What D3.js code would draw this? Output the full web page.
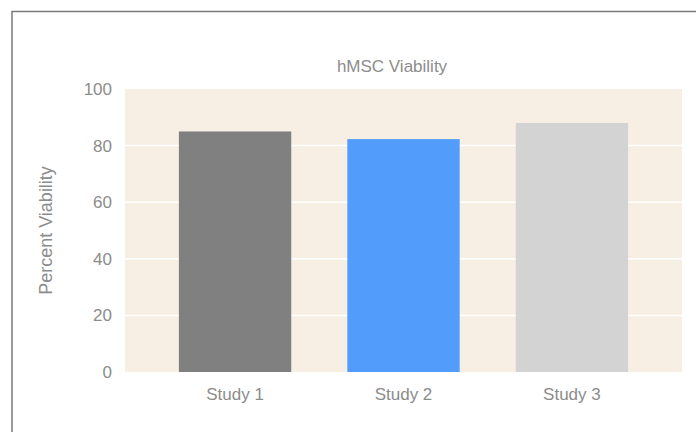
<!DOCTYPE html>
<html>
<head>
<meta charset="utf-8">
<script src="https://cdn.jsdelivr.net/npm/d3@7"></script>
<style>
  body { margin: 0; background: #fff; }
  text { font-family: "Liberation Sans", Arial, sans-serif; }
</style>
</head>
<body>
<script>
//Chart data
var studies = ["Study 1", "Study 2", "Study 3"];
var viability = [85, 82.3, 88];
var barColors = ["#808080", "#529dfc", "#d3d3d3"];
var yTicks = [0, 20, 40, 60, 80, 100];

//Width and height
var w = 696;
var h = 432;
var margin = {top: 89, right: 14, bottom: 60, left: 125};

var svg = d3.select("body")
            .append("svg")
            .attr("width", w)
            .attr("height", h);

//Outer frame (only top and left edges are visible)
svg.append("path")
   .attr("d", "M12,432 L12,11.5 L696,11.5")
   .attr("fill", "none")
   .attr("stroke", "#7a7a7a")
   .attr("stroke-width", 1.5);

//Scales
var x = d3.scaleBand()
          .domain(studies)
          .range([margin.left, w - margin.right])
          .paddingInner(0.333)
          .paddingOuter(0.32);

var y = d3.scaleLinear()
          .domain([0, 100])
          .range([h - margin.bottom, margin.top]);

//Plot background
svg.append("rect")
   .attr("x", margin.left)
   .attr("y", y(100))
   .attr("width", w - margin.right - margin.left)
   .attr("height", y(0) - y(100))
   .attr("fill", "#f7efe4");

//White gridlines
svg.selectAll("line.grid")
   .data(yTicks.filter(function(d) { return d > 0 && d < 100; }))
   .enter()
   .append("line")
   .attr("class", "grid")
   .attr("x1", margin.left)
   .attr("x2", w - margin.right)
   .attr("y1", function(d) { return y(d); })
   .attr("y2", function(d) { return y(d); })
   .attr("stroke", "#ffffff")
   .attr("stroke-width", 1.5);

//Bars
svg.selectAll("rect.bar")
   .data(viability)
   .enter()
   .append("rect")
   .attr("class", "bar")
   .attr("x", function(d, i) { return x(studies[i]); })
   .attr("width", x.bandwidth())
   .attr("y", function(d) { return y(d); })
   .attr("height", function(d) { return y(0) - y(d); })
   .attr("fill", function(d, i) { return barColors[i]; });

//Y axis labels
var yAxis = d3.axisLeft(y).tickValues(yTicks).tickSize(0).tickPadding(13);
var gy = svg.append("g")
            .attr("transform", "translate(" + margin.left + ",0)")
            .call(yAxis);
gy.select(".domain").remove();
gy.selectAll("text")
  .attr("fill", "#8c8c8c")
  .style("font-size", "17px")
  .style("font-family", "'Liberation Sans', Arial, sans-serif");

//X axis labels
var xAxis = d3.axisBottom(x).tickSize(0).tickPadding(16);
var gx = svg.append("g")
            .attr("transform", "translate(0," + y(0) + ")")
            .call(xAxis);
gx.select(".domain").remove();
gx.selectAll("text")
  .attr("fill", "#8c8c8c")
  .style("font-size", "17px")
  .style("font-family", "'Liberation Sans', Arial, sans-serif");

//Title
svg.append("text")
   .attr("x", 392)
   .attr("y", 72)
   .attr("text-anchor", "middle")
   .attr("fill", "#8c8c8c")
   .style("font-size", "17px")
   .text("hMSC Viability");

//Y axis title
svg.append("text")
   .attr("transform", "translate(52," + ((y(0) + y(100)) / 2) + ") rotate(-90)")
   .attr("text-anchor", "middle")
   .attr("fill", "#8c8c8c")
   .style("font-size", "18px")
   .text("Percent Viability");
</script>
</body>
</html>
